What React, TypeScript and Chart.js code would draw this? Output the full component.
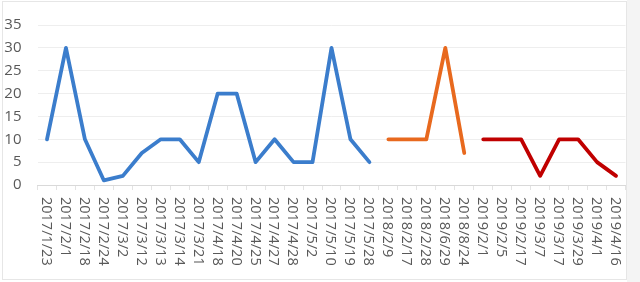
import React, { useEffect, useRef } from "react";
import { Chart, registerables } from "chart.js";

Chart.register(...registerables);

const categories = [
  "2017/1/23", "2017/2/1", "2017/2/18", "2017/2/24", "2017/3/2", "2017/3/12",
  "2017/3/13", "2017/3/14", "2017/3/21", "2017/4/18", "2017/4/20", "2017/4/25",
  "2017/4/27", "2017/4/28", "2017/5/2", "2017/5/10", "2017/5/19", "2017/5/28",
  "2018/2/9", "2018/2/17", "2018/2/28", "2018/6/29", "2018/8/24",
  "2019/2/1", "2019/2/5", "2019/2/17", "2019/3/7", "2019/3/17", "2019/3/29",
  "2019/4/1", "2019/4/16",
];

const values2017 = [10, 30, 10, 1, 2, 7, 10, 10, 5, 20, 20, 5, 10, 5, 5, 30, 10, 5];
const values2018 = [10, 10, 10, 30, 7];
const values2019 = [10, 10, 10, 2, 10, 10, 5, 2];

const yTicks = { min: 0, max: 35, step: 5 };

// Place a series on the shared category axis, null elsewhere
function placeSeries(values: number[], start: number): (number | null)[] {
  const out: (number | null)[] = categories.map(() => null);
  values.forEach((v, i) => {
    out[start + i] = v;
  });
  return out;
}

const FONT = "'Open Sans', 'Noto Sans', sans-serif";
const TEXT_COLOR = "#595959";

// White panel with a faint frame and a grey strip at the right edge
const framePlugin = {
  id: "frame",
  beforeDraw(chart: Chart) {
    const { ctx, width, height } = chart;
    ctx.save();
    ctx.fillStyle = "#f4f4f4";
    ctx.fillRect(0, 0, width, height);
    ctx.fillStyle = "#ffffff";
    ctx.fillRect(0, 0, 627, height);
    ctx.strokeStyle = "#e6e6e6";
    ctx.lineWidth = 1;
    ctx.strokeRect(2.5, 1.5, 624, 278);
    ctx.restore();
  },
};

// Category labels written top-to-bottom under each tick
const verticalLabelsPlugin = {
  id: "verticalLabels",
  afterDraw(chart: Chart) {
    const { ctx } = chart;
    const x = chart.scales.x;
    const top = chart.chartArea.bottom + 12;
    ctx.save();
    ctx.fillStyle = TEXT_COLOR;
    ctx.font = `14.5px ${FONT}`;
    ctx.textAlign = "left";
    ctx.textBaseline = "middle";
    categories.forEach((label, i) => {
      const px = x.getPixelForValue(i);
      ctx.save();
      ctx.translate(px - 1, top);
      ctx.rotate(Math.PI / 2);
      ctx.fillText(label, 0, 0);
      ctx.restore();
    });
    ctx.restore();
  },
};

export default function App() {
  const canvasRef = useRef<HTMLCanvasElement | null>(null);

  useEffect(() => {
    if (!canvasRef.current) return;
    const lineStyle = {
      borderWidth: 3.8,
      pointRadius: 0,
      pointHoverRadius: 0,
      fill: false,
      tension: 0,
      spanGaps: false,
      borderCapStyle: "round" as const,
      borderJoinStyle: "round" as const,
    };
    const chart = new Chart(canvasRef.current, {
      type: "line",
      data: {
        labels: categories,
        datasets: [
          { ...lineStyle, label: "2017", data: placeSeries(values2017, 0), borderColor: "#3b7dcc", backgroundColor: "#3b7dcc" },
          { ...lineStyle, label: "2018", data: placeSeries(values2018, values2017.length), borderColor: "#e8691e", backgroundColor: "#e8691e" },
          { ...lineStyle, label: "2019", data: placeSeries(values2019, values2017.length + values2018.length), borderColor: "#c00000", backgroundColor: "#c00000" },
        ],
      },
      options: {
        responsive: false,
        animation: false,
        layout: { padding: { top: 19, right: 14.5, left: 0, bottom: 0 } },
        plugins: {
          legend: { display: false },
          tooltip: { enabled: false },
        },
        scales: {
          x: {
            offset: true,
            grid: {
              offset: true,
              drawOnChartArea: false,
              drawTicks: true,
              tickLength: 5,
              color: "#e3e3e3",
            },
            border: { color: "#d9d9d9", width: 1 },
            ticks: { display: false },
            afterFit(scale: any) {
              scale.height = 97;
            },
          },
          y: {
            min: yTicks.min,
            max: yTicks.max,
            ticks: {
              stepSize: yTicks.step,
              color: TEXT_COLOR,
              padding: 16,
              font: { family: FONT, size: 15 },
            },
            grid: { color: "#eeeeee", drawTicks: false },
            border: { display: false },
            afterFit(scale: any) {
              scale.width = 37.5;
            },
          },
        },
      },
      plugins: [framePlugin, verticalLabelsPlugin],
    });
    return () => chart.destroy();
  }, []);

  return (
    <div style={{ position: "fixed", left: 0, top: 0, width: 640, height: 282 }}>
      <canvas ref={canvasRef} width={640} height={282} />
    </div>
  );
}
